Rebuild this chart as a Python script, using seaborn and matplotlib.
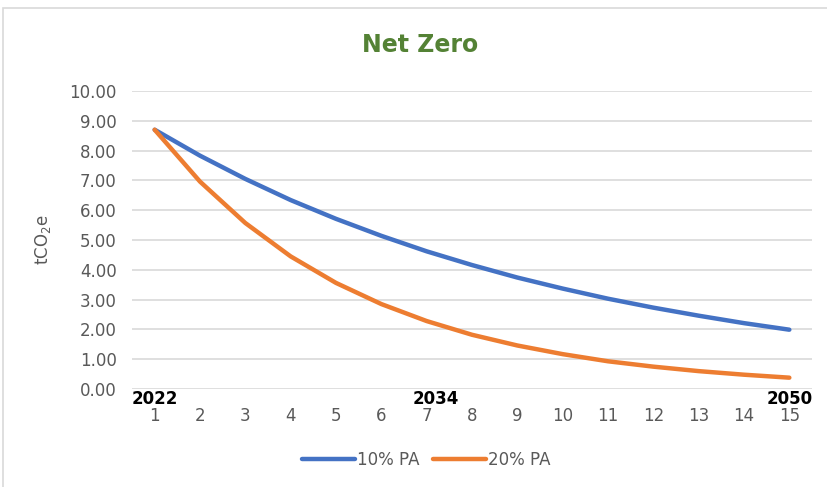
import pandas as pd
import seaborn as sns
import matplotlib.pyplot as plt
from matplotlib.patches import Rectangle

# values
periods = list(range(1, 16))
pa10 = [8.70, 7.83, 7.05, 6.34, 5.71, 5.14, 4.62, 4.16, 3.74, 3.37, 3.03, 2.73, 2.46, 2.21, 1.99]
pa20 = [8.70, 6.96, 5.57, 4.45, 3.56, 2.85, 2.28, 1.82, 1.46, 1.17, 0.93, 0.75, 0.60, 0.48, 0.38]
year_marks = {1: '2022', 7: '2034', 15: '2050'}
series_names = ['10% PA', '20% PA']
palette = {'10% PA': '#4472C4', '20% PA': '#ED7D31'}

df = pd.DataFrame({
    'period': periods * 2,
    'value': pa10 + pa20,
    'series': [series_names[0]] * len(periods) + [series_names[1]] * len(periods),
})

sns.set_theme(style='white')
plt.rcParams['font.family'] = ['DejaVu Sans']
grey = '#595959'

fig = plt.figure(figsize=(8.27, 4.87), dpi=100)
ax = fig.add_axes([132 / 827, 1 - 389 / 487, 680 / 827, 298 / 487])

sns.lineplot(data=df, x='period', y='value', hue='series', palette=palette,
             linewidth=3.2, ax=ax, legend=False)

ax.set_xlim(0.5, 15.5)
ax.set_ylim(0, 10)
ax.set_xticks(periods)
ax.set_yticks(range(0, 11))
ax.set_yticklabels(['%.2f' % v for v in range(0, 11)])
ax.tick_params(axis='both', colors=grey, labelsize=12, length=0)
ax.tick_params(axis='x', pad=13)
ax.tick_params(axis='y', pad=11)
ax.yaxis.grid(True, color='#D9D9D9', linewidth=1.2)
ax.set_axisbelow(True)
for s in ax.spines.values():
    s.set_visible(False)
ax.set_xlabel('')
ax.set_ylabel('tCO$_2$e', color=grey, fontsize=12, labelpad=12)

for x, lab in year_marks.items():
    off = 0.2 if x == 7 else 0
    ax.text(x + off, -0.05, lab, ha='center', va='top', fontsize=12,
            fontweight='bold', color='black')

fig.text(0.508, 1 - 45 / 487, 'Net Zero', ha='center', va='center',
         fontsize=17, fontweight='bold', color='#548235')

handles = [plt.Line2D([], [], color=palette[n], linewidth=3.2) for n in series_names]
fig.legend(handles, series_names, loc='center', bbox_to_anchor=(0.515, 1 - 460 / 487),
           ncol=2, frameon=False, fontsize=12, labelcolor=grey,
           handlelength=3.2, handletextpad=0.1, columnspacing=0.8)

fig.patches.append(Rectangle((3 / 827, -0.1), 1.2, 1 - 8 / 487 + 0.1,
                             transform=fig.transFigure, fill=False,
                             edgecolor='#D9D9D9', linewidth=1.2))

fig.savefig('out.png', dpi=100)
